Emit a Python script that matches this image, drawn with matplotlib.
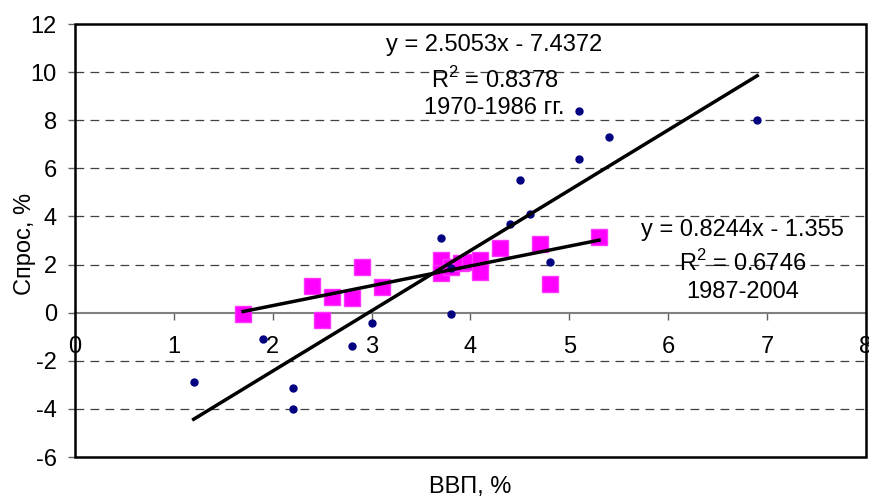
import matplotlib
matplotlib.use("Agg")
import matplotlib.pyplot as plt
from matplotlib.patches import Rectangle
import numpy as np

# 1970-1986 (blue dots)
gdp_early = [1.2, 1.9, 2.2, 2.2, 2.8, 3.0, 3.7, 3.8, 3.8, 4.4, 4.8, 4.6, 4.5, 5.1, 5.1, 5.4, 6.9]
demand_early = [-2.9, -1.1, -3.15, -4.0, -1.4, -0.45, 3.1, 1.85, -0.07, 3.7, 2.1, 4.1, 5.5, 6.4, 8.4, 7.3, 8.0]

# 1987-2004 (magenta squares)
gdp_late = [1.7, 2.4, 2.5, 2.6, 2.8, 2.9, 3.1, 3.7, 3.7, 3.8, 3.9, 4.0, 4.1, 4.1, 4.3, 4.7, 4.8, 5.3]
demand_late = [-0.05, 1.1, -0.3, 0.65, 0.6, 1.9, 1.05, 2.2, 1.65, 1.9, 2.05, 2.1, 2.2, 1.7, 2.7, 2.85, 1.2, 3.15]

# trend coefficients as printed on the chart
trend_early = (2.5053, -7.4372)
trend_late = (0.8244, -1.355)

x_ticks = [0, 1, 2, 3, 4, 5, 6, 7, 8]
y_ticks = [-6, -4, -2, 0, 2, 4, 6, 8, 10, 12]

plt.rcParams['font.family'] = ['Liberation Sans', 'DejaVu Sans']
plt.rcParams['mathtext.fontset'] = 'custom'
plt.rcParams['mathtext.rm'] = 'Liberation Sans'
plt.rcParams['axes.unicode_minus'] = False
plt.rcParams['font.size'] = 17

fig = plt.figure(figsize=(8.7, 4.99), dpi=100)
ax = fig.add_axes([75 / 870, 42 / 499, 791 / 870, 433 / 499])

ax.set_xlim(0, 8)
ax.set_ylim(-6, 12)

for y in y_ticks:
    if y not in (-6, 0, 12):
        ax.axhline(y, color='#404040', lw=0.9, ls=(0, (7, 5)), zorder=1)

ax.plot(gdp_late, demand_late, 's', color='#FF00FF', ms=11, mec='#FF33FF', zorder=3)
ax.plot(gdp_early, demand_early, 'o', color='#000080', ms=5, zorder=4)

xe = np.array([min(gdp_early), max(gdp_early)])
ax.plot(xe, trend_early[0] * xe + trend_early[1], color='black', lw=2.5, zorder=5)
xl = np.array([min(gdp_late), max(gdp_late)])
ax.plot(xl, trend_late[0] * xl + trend_late[1], color='black', lw=2.5, zorder=5)

for s in ('top', 'right', 'left'):
    ax.spines[s].set_visible(False)
ax.spines['bottom'].set_position(('data', 0))
ax.spines['bottom'].set_color('#808080')
ax.spines['bottom'].set_linewidth(1.5)
ax.add_patch(Rectangle((0, 0), 1, 1, transform=ax.transAxes, fill=False,
                       edgecolor='black', lw=1.8, clip_on=False, zorder=6))

ax.set_xticks(x_ticks)
ax.set_yticks(y_ticks)
ax.tick_params(axis='x', direction='out', length=5, width=1, color='#606060', pad=12)
ax.tick_params(axis='y', direction='out', length=5, width=1, color='#606060', pad=8)

ax.text(4.24, 11.13, 'y = 2.5053x - 7.4372', ha='center', va='center', zorder=7)
ax.text(4.24, 9.68, 'R$^2$ = 0.8378', ha='center', va='center', zorder=7)
ax.text(4.24, 8.51, '1970-1986 гг.', ha='center', va='center', zorder=7)

ax.text(6.75, 3.44, 'y = 0.8244x - 1.355', ha='center', va='center', zorder=7)
ax.text(6.75, 2.07, 'R$^2$ = 0.6746', ha='center', va='center', zorder=7)
ax.text(6.75, 0.86, '1987-2004', ha='center', va='center', zorder=7)

fig.text(470 / 870, 1 - 487 / 499, 'ВВП, %', ha='center', va='center')
fig.text(25 / 870, 1 - 244 / 499, 'Спрос, %', ha='center', va='center', rotation=90)

fig.savefig('out.png', dpi=100)
